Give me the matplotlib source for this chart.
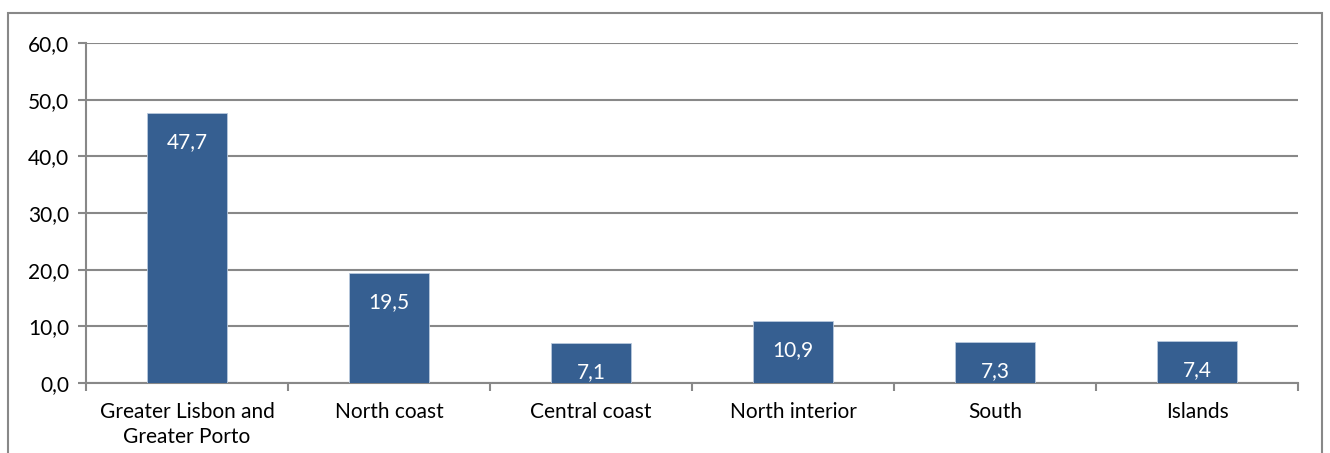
import matplotlib
matplotlib.use("Agg")
from matplotlib import pyplot as plt
from matplotlib.patches import Rectangle
import numpy as np

regions = ["Greater Lisbon and\nGreater Porto", "North coast", "Central coast",
           "North interior", "South", "Islands"]
shares = [47.7, 19.5, 7.1, 10.9, 7.3, 7.4]
y_ticks = [0, 10, 20, 30, 40, 50, 60]

plt.rcParams['font.family'] = ['Lato', 'DejaVu Sans']

bar_color = '#365F91'
grid_color = '#888888'
fs = 15

fig = plt.figure(figsize=(13.3, 4.53), dpi=100)
ax = fig.add_axes([86 / 1330, 70 / 453, 1212 / 1330, 340 / 453])

# outer chart frame (bottom edge is cut off in the original)
fig.patches.append(Rectangle((8 / 1330, -0.1), 1314 / 1330, 1.1 - 13 / 453,
                             transform=fig.transFigure, fill=False,
                             edgecolor=grid_color, linewidth=1.5))

x = np.arange(len(regions))
bars = ax.bar(x, shares, width=0.4, color=bar_color, edgecolor='#B9C9DD',
              linewidth=0.6, zorder=3)

for b, v in zip(bars, shares):
    ax.annotate(f"{v:.1f}".replace('.', ','),
                (b.get_x() + b.get_width() / 2, v),
                xytext=(0, -21), textcoords='offset points',
                ha='center', va='center', color='white', fontsize=fs, zorder=4)

ax.set_xlim(-0.5, len(regions) - 0.5)
ax.set_ylim(0, 60)
ax.set_yticks(y_ticks)
ax.set_yticklabels([f"{t:.1f}".replace('.', ',') for t in y_ticks], fontsize=fs)
ax.yaxis.grid(True, color=grid_color, linewidth=1.5, zorder=0)

ax.set_xticks(x)
ax.set_xticklabels(regions, fontsize=fs, linespacing=1.3)
ax.set_xticks(np.arange(-0.5, len(regions)), minor=True)
ax.tick_params(axis='x', which='major', length=0, pad=14)
ax.tick_params(axis='x', which='minor', length=6, width=1.5, color=grid_color)
ax.tick_params(axis='y', length=6, width=1.5, color=grid_color, pad=6)

for s in ['top', 'right']:
    ax.spines[s].set_visible(False)
for s in ['left', 'bottom']:
    ax.spines[s].set_color(grid_color)
    ax.spines[s].set_linewidth(1.5)

fig.savefig("out.png", dpi=100)
